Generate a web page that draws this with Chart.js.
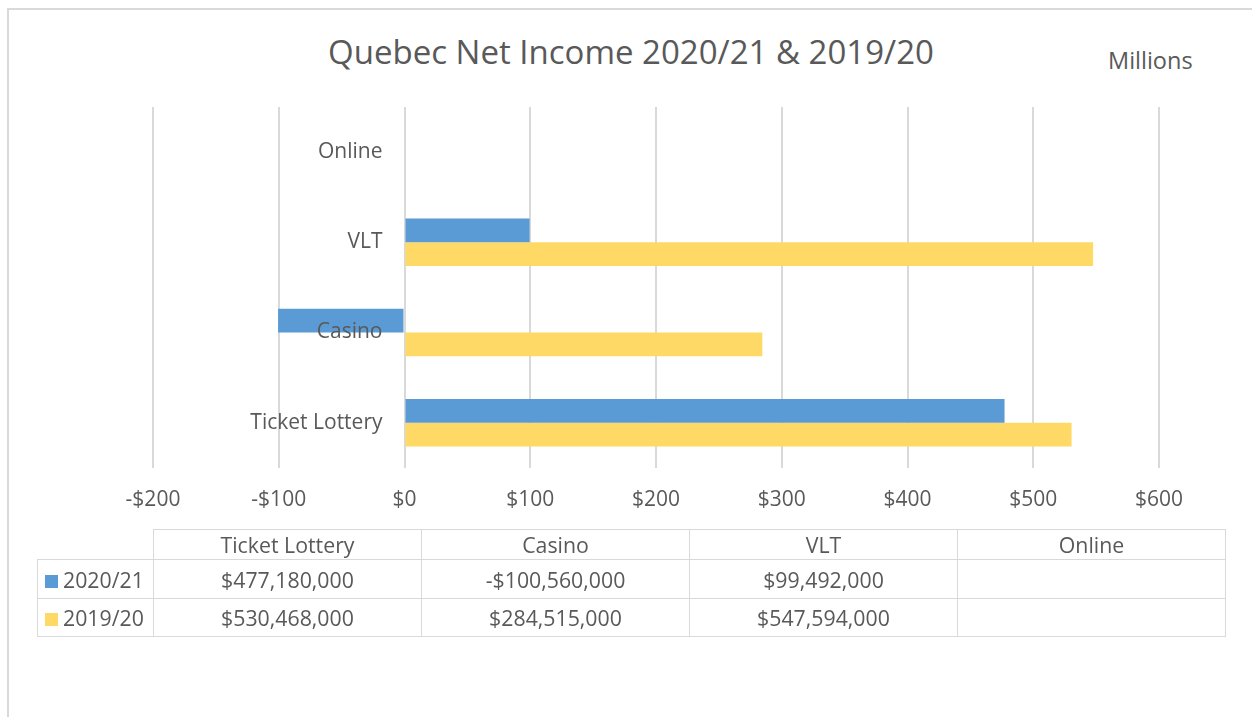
<!DOCTYPE html>
<html>
<head>
<meta charset="utf-8">
<title>Quebec Net Income</title>
<script src="https://cdn.jsdelivr.net/npm/chart.js@4.4.1/dist/chart.umd.min.js"></script>
<style>
    body { margin: 0; background: #fff; font-family: "Open Sans", sans-serif; color: #595959; }
    #frame { position: absolute; left: 7px; top: 8px; width: 1400px; height: 900px; border: 2px solid #D9D9D9; }
    #title { position: absolute; left: 0; width: 1262px; top: 28px; text-align: center; font-size: 33px; line-height: 48px; }
    #units { position: absolute; left: 1108px; top: 44px; font-size: 23.5px; line-height: 32px; }
    #wrap { position: absolute; left: 0; top: 0; width: 1252px; height: 533px; }
    #data-table { position: absolute; left: 37px; top: 529px; border-collapse: collapse; table-layout: fixed; font-size: 21.3px; }
    #data-table td { border: 1.5px solid #D9D9D9; text-align: center; padding: 0; white-space: nowrap; }
    #data-table td.blank { border: none; }
    #data-table td.name { text-align: left; padding-left: 7px; }
    .swatch { display: inline-block; width: 13px; height: 13px; margin-right: 5px; vertical-align: 0px; }
</style>
</head>
<body>
<div id="frame"></div>
<div id="title">Quebec Net Income 2020/21 &amp; 2019/20</div>
<div id="units">Millions</div>
<div id="wrap"><canvas id="income-chart"></canvas></div>
<table id="data-table"></table>
<script>
// categories, bottom to top like the excel chart
let categories = ['Ticket Lottery', 'Casino', 'VLT', 'Online']
let seriesNames = ['2020/21', '2019/20']
// net income in millions of dollars
let income2021 = [477.18, -100.56, 99.492, null]
let income1920 = [530.468, 284.515, 547.594, null]
let xTicks = [-200, -100, 0, 100, 200, 300, 400, 500, 600]
let seriesColors = ['#5B9BD5', '#FFD966']

let textColor = '#595959'
let gridColor = '#D9D9D9'

function money(v) {
    return (v < 0 ? '-$' : '$') + Math.abs(v)
}

let ctx = document.getElementById('income-chart').getContext('2d')
let incomeChart = new Chart(ctx, {
    type: 'bar',
    data: {
        labels: categories,
        datasets: [
            { label: seriesNames[0], data: income2021, backgroundColor: seriesColors[0] },
            { label: seriesNames[1], data: income1920, backgroundColor: seriesColors[1] }
        ]
    },
    options: {
        indexAxis: 'y',
        responsive: true,
        maintainAspectRatio: false,
        animation: false,
        layout: { padding: { left: 153, right: 93, top: 107, bottom: 0 } },
        datasets: { bar: { barPercentage: 1, categoryPercentage: 0.525 } },
        plugins: { legend: { display: false }, tooltip: { enabled: false } },
        scales: {
            x: {
                min: xTicks[0],
                max: xTicks[xTicks.length - 1],
                afterBuildTicks: axis => { axis.ticks = xTicks.map(v => ({ value: v })) },
                grid: { color: gridColor, lineWidth: 2, drawTicks: false },
                border: { display: false },
                ticks: {
                    color: textColor,
                    font: { family: 'Open Sans', size: 21 },
                    padding: 20,
                    maxRotation: 0,
                    callback: v => money(v)
                }
            },
            y: {
                reverse: true,
                // labels sit just left of the $0 line, like excel's axis crossing
                position: { x: -17.5 },
                grid: { display: false, drawTicks: false },
                border: { display: false },
                ticks: {
                    z: 1,   // draw the labels over the bars (Casino)
                    color: textColor,
                    font: { family: 'Open Sans', size: 21 },
                    padding: 0
                }
            }
        }
    }
})

// data table under the chart
let table = document.getElementById('data-table')
let widths = [116, 268, 268, 268, 268]
let colgroup = '<colgroup>' + widths.map(w => `<col style="width:${w}px">`).join('') + '</colgroup>'
let header = '<tr style="height:29px"><td class="blank"></td>' + categories.map(c => `<td>${c}</td>`).join('') + '</tr>'
let rows = [income2021, income1920].map(function(values, i) {
    let cells = values.map(function(v) {
        if (v === null) return '<td></td>'
        let txt = (v < 0 ? '-$' : '$') + Math.round(Math.abs(v) * 1e6).toLocaleString('en-US')
        return `<td>${txt}</td>`
    })
    return `<tr style="height:${i === 0 ? 39 : 38}px"><td class="name"><span class="swatch" style="background:${seriesColors[i]}"></span>${seriesNames[i]}</td>` + cells.join('') + '</tr>'
})
table.innerHTML = colgroup + header + rows.join('')
</script>
</body>
</html>
